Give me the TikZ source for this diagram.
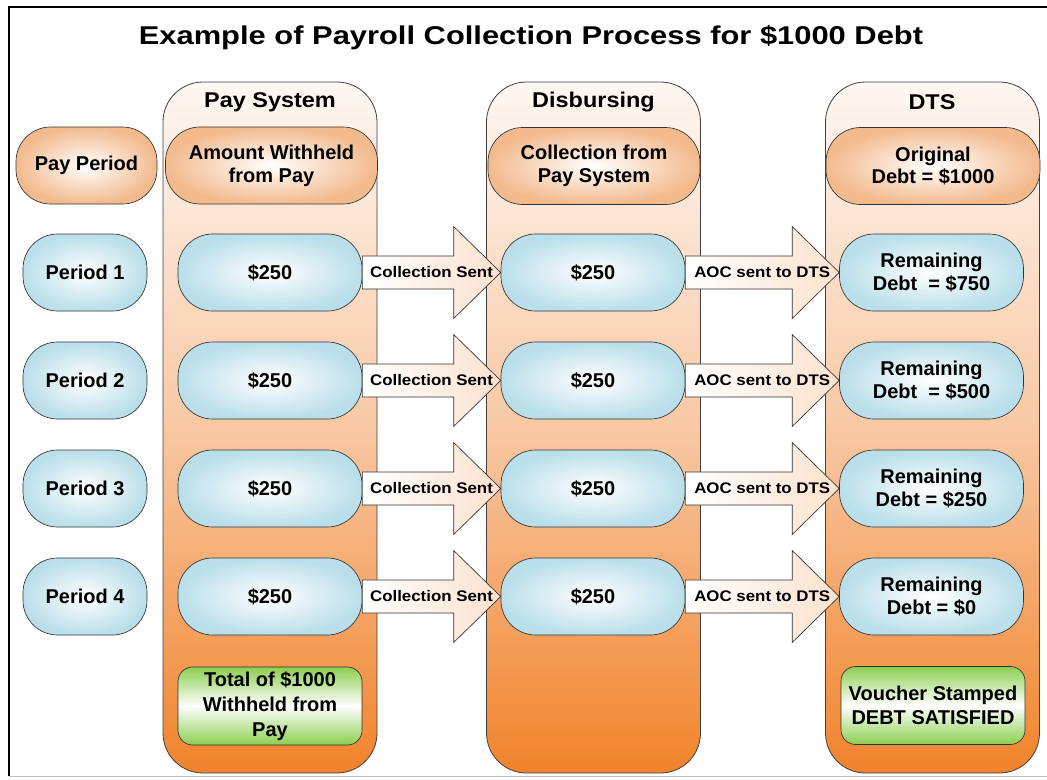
\documentclass[tikz,border=0pt]{standalone}
\usepackage{fontspec}
\setmainfont{Liberation Sans}
\newfontfamily\titlesans[FakeStretch=1.2]{Liberation Sans}
\newfontfamily\headsans[FakeStretch=1.1]{Liberation Sans}
\usetikzlibrary{calc}

\definecolor{colTop}{RGB}{254,247,242}
\definecolor{colMid}{RGB}{248,200,164}
\definecolor{colBot}{RGB}{241,131,43}
\definecolor{peach}{RGB}{243,186,142}
\definecolor{paleblue}{RGB}{186,223,234}
\definecolor{leaf}{RGB}{140,206,80}
\definecolor{arrowpeach}{RGB}{251,226,207}

\tikzset{
  title/.style={font=\titlesans\fontsize{19.3}{23}\selectfont\bfseries},
  colhead/.style={font=\headsans\fontsize{16}{19}\selectfont\bfseries},
  column/.style={draw=black!75, line width=0.6pt, rounded corners=30pt,
    top color=colTop, bottom color=colBot, middle color=colMid,
    minimum width=160.5pt, minimum height=518.25pt, inner sep=0pt},
  pill/.style={draw=black!80, line width=0.5pt, rounded corners=26pt,
    align=center, inner sep=0pt, minimum height=57.75pt,
    font=\fontsize{15}{17}\selectfont\bfseries},
  headpill/.style={pill, inner color=white, outer color=peach},
  rowpill/.style={pill, inner color=white, outer color=paleblue, minimum width=138pt},
  resultbox/.style={pill, rounded corners=11pt, top color=leaf, bottom color=leaf,
    middle color=white, minimum width=138pt, minimum height=58.5pt,
    font=\fontsize{15}{18.5}\selectfont\bfseries},
  arrowbody/.style={draw=black!80, line width=0.5pt, left color=white, right color=arrowpeach},
  arrowtext/.style={font=\headsans\fontsize{11.5}{14}\selectfont\bfseries, inner sep=0pt}
}

% block arrow from one row node to the next
\newcommand{\sendarrow}[3]{%
  \draw[arrowbody] ([yshift=12.4pt]#1.east) -- ([xshift=-35.25pt,yshift=12.4pt]#2.west)
    -- ([xshift=-35.25pt,yshift=34.5pt]#2.west) -- (#2.west)
    -- ([xshift=-35.25pt,yshift=-34.5pt]#2.west) -- ([xshift=-35.25pt,yshift=-12.4pt]#2.west)
    -- ([yshift=-12.4pt]#1.east) -- cycle;
  \node[arrowtext] (#1-#2) at ($(#1.east)!0.5!(#2.west)$) {#3};}

\begin{document}
\begin{tikzpicture}[x=0.75pt,y=-0.75pt]
\useasboundingbox (0,0) rectangle (1047,779);
% frame
\draw[line width=1.5pt] (1047,7) -- (9,7) -- (9,776);
\draw[black!25] (9,776) -- (1047,776);
\node[title] (title) at (531,38) {Example of Payroll Collection Process for \$1000 Debt};

% columns
\node[column] (paycol) at (270,427.5) {};
\node[column] (discol) at (593.5,427.5) {};
\node[column] (dtscol) at (932.5,427.5) {};
\node[colhead] (payhead) at (270,102) {Pay System};
\node[colhead] (dishead) at (593.5,102) {Disbursing};
\node[colhead] (dtshead) at (932,102) {DTS};

% headings
\node[headpill, minimum width=105.75pt] (period) at (86.5,165.5) {Pay Period};
\node[headpill, minimum width=159pt] (withheld) at (271.5,165.5) {Amount Withheld\\from Pay};
\node[headpill, minimum width=159pt] (collect) at (594,166) {Collection from\\Pay System};
\node[headpill, minimum width=160.5pt] (original) at (933,166) {Original\\Debt = \$1000};

% pay periods
\node[rowpill, minimum width=93pt] (per1) at (85,272.5) {Period 1};
\node[rowpill] (pay1) at (270,272.5) {\$250};
\node[rowpill] (dis1) at (593,272.5) {\$250};
\node[rowpill] (dts1) at (931.5,272.5) {Remaining\\Debt~~= \$750};

\node[rowpill, minimum width=93pt] (per2) at (85,380.5) {Period 2};
\node[rowpill] (pay2) at (270,380.5) {\$250};
\node[rowpill] (dis2) at (593,380.5) {\$250};
\node[rowpill] (dts2) at (931.5,380.5) {Remaining\\Debt~~= \$500};

\node[rowpill, minimum width=93pt] (per3) at (85,488.5) {Period 3};
\node[rowpill] (pay3) at (270,488.5) {\$250};
\node[rowpill] (dis3) at (593,488.5) {\$250};
\node[rowpill] (dts3) at (931.5,488.5) {Remaining\\Debt = \$250};

\node[rowpill, minimum width=93pt] (per4) at (85,596.5) {Period 4};
\node[rowpill] (pay4) at (270,596.5) {\$250};
\node[rowpill] (dis4) at (593,596.5) {\$250};
\node[rowpill] (dts4) at (931.5,596.5) {Remaining\\Debt = \$0};

% arrows
\sendarrow{pay1}{dis1}{Collection Sent}
\sendarrow{pay2}{dis2}{Collection Sent}
\sendarrow{pay3}{dis3}{Collection Sent}
\sendarrow{pay4}{dis4}{Collection Sent}
\sendarrow{dis1}{dts1}{AOC sent to DTS}
\sendarrow{dis2}{dts2}{AOC sent to DTS}
\sendarrow{dis3}{dts3}{AOC sent to DTS}
\sendarrow{dis4}{dts4}{AOC sent to DTS}

% totals
\node[resultbox] (total) at (270,706) {Total of \$1000\\Withheld from\\Pay};
\node[resultbox] (voucher) at (933,705.5) {Voucher Stamped\\DEBT SATISFIED};
\end{tikzpicture}
\end{document}
